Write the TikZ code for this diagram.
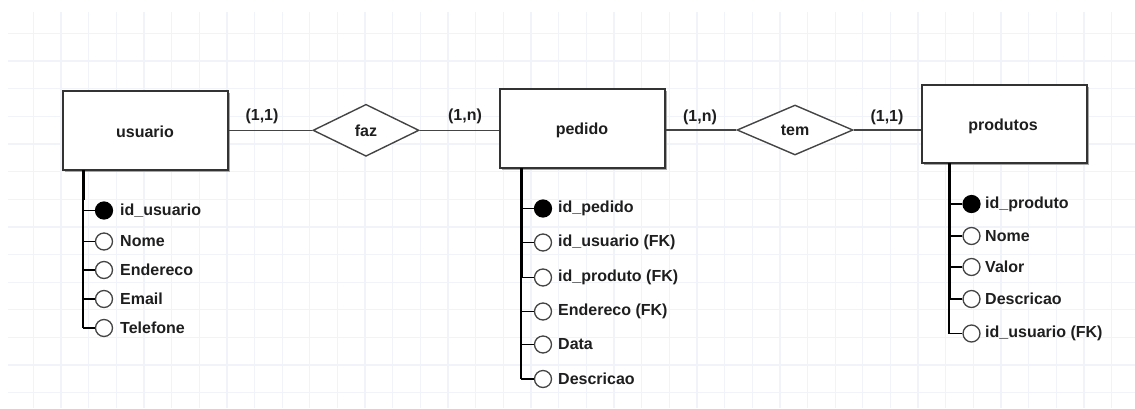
\documentclass[tikz,border=0pt]{standalone}
\usepackage{fontspec}
\setmainfont{Liberation Sans}
\usetikzlibrary{shapes.geometric}
\definecolor{gridc}{HTML}{F0F3F9}
\definecolor{edge}{HTML}{333333}
\definecolor{lnk}{HTML}{444444}
\definecolor{txt}{HTML}{1E1E1E}
\tikzset{
  entity/.style={draw=edge, line width=1.5pt, fill=white, minimum width=165pt, inner sep=0pt},
  ftxt/.style={font=\bfseries\fontsize{16}{19}\selectfont, text=txt},
  rel/.style={diamond, draw=lnk, line width=1.4pt, fill=white, inner sep=0pt, ftxt},
  card/.style={ftxt, inner sep=0pt},
  link/.style={draw=lnk, line width=1.4pt},
  pk/.style={circle, draw=black, fill=black, line width=1.2pt, minimum size=17pt, inner sep=0pt},
  att/.style={circle, draw=lnk, fill=white, line width=1.3pt, minimum size=17pt, inner sep=0pt},
  attxt/.style={anchor=west, inner sep=0pt, ftxt},
  trunkthick/.style={draw=black, line width=3pt},
  trunkthin/.style={draw=black, line width=1.4pt},
  stub/.style={draw=black, line width=1.4pt},
}
\begin{document}
\begin{tikzpicture}[x=1pt,y=-1pt]
\useasboundingbox (0,0) rectangle (1135,408);
% grid
\begin{scope}
\clip (8,12) rectangle (1135,408);
\foreach \i in {0,...,40} {\draw[gridc, line width=1.3pt] (33.3+27.65*\i,12) -- (33.3+27.65*\i,408);}
\foreach \j in {0,...,14} {\draw[gridc, line width=1.3pt] (8,33.3+27.65*\j) -- (1135,33.3+27.65*\j);}
\end{scope}

% shadows
\fill[gray!70] (65,93) rectangle (230,172);
\fill[gray!70] (502,91) rectangle (667,170);
\fill[gray!70] (924,87) rectangle (1089,165);

% entities
\node[entity, minimum height=79pt] (usuario) at (145.5,130.5) {};
\node[ftxt] (usuarioT) at (145,132) {usuario};
\node[entity, minimum height=79pt] (pedido) at (582.5,128.5) {};
\node[ftxt] (pedidoT) at (582,130) {pedido};
\node[entity, minimum height=78pt] (produtos) at (1004.5,124) {};
\node[ftxt] (produtosT) at (1003,126) {produtos};

% relationships
\node[rel, minimum width=106pt, minimum height=52pt] (faz) at (366,130.3) {faz};
\node[rel, minimum width=116pt, minimum height=50pt] (tem) at (795,130) {tem};

% links
\draw[link] (usuario.east |- faz.west) -- (faz.west);
\draw[link] (faz.east) -- (faz.east -| pedido.west);
\draw[link] (pedido.east |- tem.west) -- (tem.west);
\draw[link] (tem.east) -- (tem.east -| produtos.west);

% cardinalities
\node[card] (c1) at (262,116) {(1,1)};
\node[card] (c2) at (465,116) {(1,n)};
\node[card] (c3) at (700,117) {(1,n)};
\node[card] (c4) at (887,117) {(1,1)};

% usuario attributes
\coordinate (uT) at (83,170);
\coordinate (uM) at (83,200);
\coordinate (uE) at (83,328);
\draw[trunkthick] (uT) -- (uM);
\draw[trunkthin] (uM) -- (uE);
\foreach \n/\y/\s/\t in {u1/210.5/pk/id\_usuario, u2/241.5/att/Nome, u3/270/att/Endereco, u4/299/att/Email, u5/328/att/Telefone} {
  \node[\s] (\n) at (104,\y) {};
  \coordinate (\n s) at (83,\y);
  \draw[stub] (\n s) -- (\n.west);
  \node[attxt] (\n t) at (120,\y) {\t};
}

% pedido attributes
\coordinate (pT) at (521,168);
\coordinate (pM) at (521,277.5);
\coordinate (pE) at (521,379);
\draw[trunkthick] (pT) -- (pM);
\draw[trunkthin] (pM) -- (pE);
\foreach \n/\y/\s/\t in {p1/208.5/pk/id\_pedido, p2/242.5/att/id\_usuario (FK), p3/277.5/att/id\_produto (FK), p4/311.5/att/Endereco (FK), p5/344.5/att/Data, p6/379/att/Descricao} {
  \node[\s] (\n) at (543,\y) {};
  \coordinate (\n s) at (521,\y);
  \draw[stub] (\n s) -- (\n.west);
  \node[attxt] (\n t) at (558,\y) {\t};
}

% produtos attributes
\coordinate (rT) at (949,163);
\coordinate (rM) at (949,299);
\coordinate (rE) at (949,333.5);
\draw[trunkthick] (rT) -- (rM);
\draw[trunkthin] (rM) -- (rE);
\foreach \n/\y/\s/\t in {r1/204/pk/id\_produto, r2/236/att/Nome, r3/267/att/Valor, r4/299/att/Descricao, r5/333.5/att/id\_usuario (FK)} {
  \node[\s] (\n) at (971.5,\y) {};
  \coordinate (\n s) at (949,\y);
  \draw[stub] (\n s) -- (\n.west);
  \node[attxt] (\n t) at (985,\y) {\t};
}
\end{tikzpicture}
\end{document}
